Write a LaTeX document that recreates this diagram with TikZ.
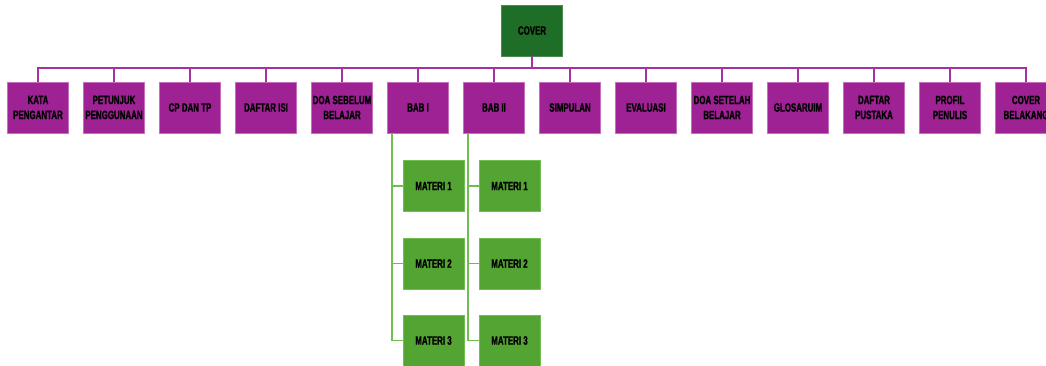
\documentclass[tikz,border=0pt]{standalone}
\usepackage{fontspec}
\setmainfont{Liberation Sans}[FakeStretch=0.66, BoldFeatures={FakeBold=1.2}]
\definecolor{babfill}{RGB}{158,34,148}
\definecolor{babline}{RGB}{196,110,190}
\definecolor{busline}{RGB}{165,50,160}
\definecolor{coverfill}{RGB}{30,110,40}
\definecolor{materifill}{RGB}{84,164,52}
\definecolor{materiline}{RGB}{112,190,80}
\tikzset{
    box/.style={minimum width=61, minimum height=51, inner sep=0pt, align=center,
        font=\fontsize{12}{15}\selectfont\bfseries, text=black, line width=0.8pt},
    bab/.style={box, fill=babfill, draw=babline},
    coverbox/.style={box, fill=coverfill, draw=coverfill!80!white},
    materi/.style={box, fill=materifill, draw=materiline},
    tree/.style={busline, line width=2pt},
    subtree/.style={materiline, line width=1.8pt}
}
\begin{document}
\begin{tikzpicture}[x=1pt, y=-1pt]
    \useasboundingbox (0,0) rectangle (1046,366);
    \clip (0,0) rectangle (1046,366);

    \node[coverbox] (cover) at (532,30.5) {COVER};

    \foreach \i/\t in {0/KATA\\PENGANTAR, 1/PETUNJUK\\PENGGUNAAN, 2/CP DAN TP,
        3/DAFTAR ISI, 4/DOA SEBELUM\\BELAJAR, 5/BAB I, 6/BAB II, 7/SIMPULAN,
        8/EVALUASI, 9/DOA SETELAH\\BELAJAR, 10/GLOSARUIM, 11/DAFTAR\\PUSTAKA,
        12/PROFIL\\PENULIS, 13/COVER\\BELAKANG}
        {\node[bab] (bab\i) at (38+76*\i,107.5) {\t};
         \draw[tree] (cover.south) -- ++(0,12) -| (bab\i.north);}

    \foreach \b in {5,6}
        {\foreach \j/\y in {1/186,2/263.5,3/340.5}
            {\node[materi] (mat\b-\j) at ([xshift=15.5]bab\b.center |- 0,\y) {MATERI \j};
             \draw[subtree] ([xshift=5]bab\b.south west) |- (mat\b-\j.west);}}
\end{tikzpicture}
\end{document}
